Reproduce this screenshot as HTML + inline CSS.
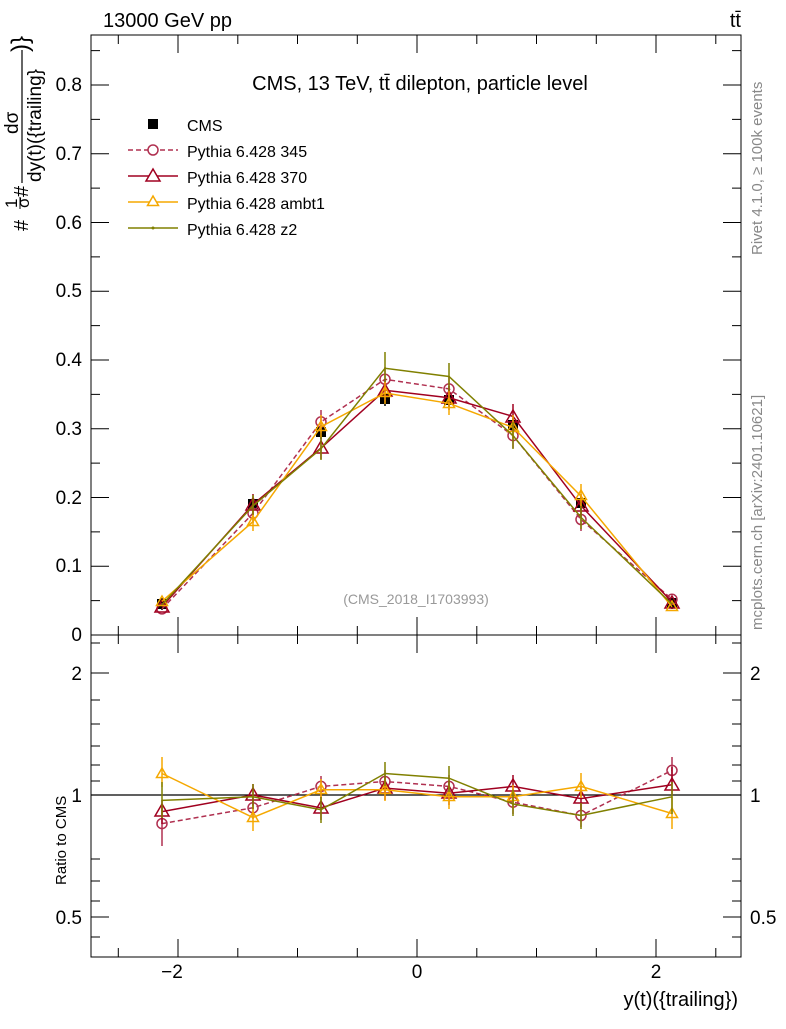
<!DOCTYPE html>
<html><head><meta charset="utf-8"><style>
body{margin:0;background:#fff;}
svg{font-family:"Liberation Sans",sans-serif;}
</style></head><body>
<svg width="786" height="1024" viewBox="0 0 786 1024" xmlns="http://www.w3.org/2000/svg">
<rect width="786" height="1024" fill="#fff"/>
<rect x="91" y="35" width="650" height="600" fill="none" stroke="#000" stroke-width="1"/>
<rect x="91" y="635" width="650" height="322" fill="none" stroke="#000" stroke-width="1"/>
<g stroke="#000" stroke-width="1">
<path d="M91 635h18M91 566.25h18M91 497.5h18M91 428.75h18M91 360h18M91 291.25h18M91 222.5h18M91 153.75h18M91 85h18"/>
<path d="M741 635h-18M741 566.25h-18M741 497.5h-18M741 428.75h-18M741 360h-18M741 291.25h-18M741 222.5h-18M741 153.75h-18M741 85h-18"/>
<path d="M91 600.6h9M91 531.9h9M91 463.1h9M91 394.4h9M91 325.6h9M91 256.9h9M91 188.1h9M91 119.4h9M91 50.6h9"/>
<path d="M741 600.6h-9M741 531.9h-9M741 463.1h-9M741 394.4h-9M741 325.6h-9M741 256.9h-9M741 188.1h-9M741 119.4h-9M741 50.6h-9"/>
<path d="M178 635v-18M417 635v-18M656 635v-18M178 35v18M417 35v18M656 35v18"/>
<path d="M118.3 635v-9M237.8 635v-9M297.5 635v-9M357.3 635v-9M476.8 635v-9M536.5 635v-9M596.3 635v-9M715.8 635v-9"/>
<path d="M118.3 35v9M237.8 35v9M297.5 35v9M357.3 35v9M476.8 35v9M536.5 35v9M596.3 35v9M715.8 35v9"/>
<path d="M178 957v-18M417 957v-18M656 957v-18M178 635v18M417 635v18M656 635v18"/>
<path d="M118.3 957v-9M237.8 957v-9M297.5 957v-9M357.3 957v-9M476.8 957v-9M536.5 957v-9M596.3 957v-9M715.8 957v-9"/>
<path d="M118.3 635v9M237.8 635v9M297.5 635v9M357.3 635v9M476.8 635v9M536.5 635v9M596.3 635v9M715.8 635v9"/>
<path d="M91 673h18M91 795h18M91 917h18M741 673h-18M741 795h-18M741 917h-18"/>
<path d="M91 643h9M91 700h9M91 724h9M91 746h9M91 765h9M91 781h9M91 859h9M91 881h9M91 901h9M91 937h9"/>
<path d="M741 643h-9M741 700h-9M741 724h-9M741 746h-9M741 765h-9M741 781h-9M741 859h-9M741 881h-9M741 901h-9M741 937h-9"/>
</g>
<g font-size="19" text-anchor="end" fill="#000">
<text x="82" y="641">0</text><text x="82" y="572">0.1</text><text x="82" y="504">0.2</text><text x="82" y="435">0.3</text><text x="82" y="366">0.4</text><text x="82" y="297">0.5</text><text x="82" y="229">0.6</text><text x="82" y="160">0.7</text><text x="82" y="91">0.8</text>
<text x="82" y="680">2</text><text x="82" y="802">1</text><text x="82" y="924">0.5</text>
</g>
<g font-size="19" fill="#000"><text x="750" y="680">2</text><text x="750" y="802">1</text><text x="750" y="924">0.5</text></g>
<g font-size="19" text-anchor="middle"><text x="172" y="978">−2</text><text x="417" y="978">0</text><text x="656" y="978">2</text></g>
<text x="738" y="1006" font-size="20" text-anchor="end">y(t)({trailing})</text>
<text x="103" y="27" font-size="20">13000 GeV pp</text>
<text x="741" y="27" font-size="20" text-anchor="end">tt̄</text>
<text x="420" y="90" font-size="20" text-anchor="middle">CMS, 13 TeV, tt̄ dilepton, particle level</text>
<text x="416" y="604" font-size="14" fill="#999" text-anchor="middle">(CMS_2018_I1703993)</text>
<text transform="translate(66,885) rotate(-90)" font-size="15">Ratio to CMS</text>
<g fill="#000">
<text transform="translate(28,231) rotate(-90)" font-size="20">#</text>
<text transform="translate(17,208) rotate(-90)" font-size="17">1</text>
<text transform="translate(29,208) rotate(-90)" font-size="17">σ</text>
<path d="M20 209V197" stroke="#000"/>
<text transform="translate(28,197) rotate(-90)" font-size="20">#</text>
<text transform="translate(18,134) rotate(-90)" font-size="19">dσ</text>
<path d="M22 183V50" stroke="#000" stroke-width="1.2"/>
<text transform="translate(41,182) rotate(-90)" font-size="19">dy(t)({trailing}</text>
<text transform="translate(28,52) rotate(-90)" font-size="24">)}</text>
</g>
<text transform="translate(762,255) rotate(-90)" font-size="15" fill="#888">Rivet 4.1.0, ≥ 100k events</text>
<text transform="translate(762,630) rotate(-90)" font-size="15" fill="#888">mcplots.cern.ch [arXiv:2401.10621]</text>
<rect x="148" y="119" width="10" height="10" fill="#000"/>
<text x="187" y="131" font-size="16">CMS</text>
<path d="M128 150h50" stroke="#b03050" stroke-width="1.5" stroke-dasharray="5,3"/><circle cx="153" cy="150" r="5" fill="#fff" stroke="#b03050" stroke-width="1.5"/>
<text x="187" y="157" font-size="16">Pythia 6.428 345</text>
<path d="M128 176h50" stroke="#a00020" stroke-width="1.5"/><path d="M153 169l7 12h-14z" fill="#fff" stroke="#a00020" stroke-width="1.5"/>
<text x="187" y="183" font-size="16">Pythia 6.428 370</text>
<path d="M128 202h50" stroke="#f5a800" stroke-width="1.5"/><path d="M153 196l5.5 9.5h-11z" fill="#fff" stroke="#f5a800" stroke-width="1.5"/>
<text x="187" y="209" font-size="16">Pythia 6.428 ambt1</text>
<path d="M128 228h50" stroke="#808000" stroke-width="1.5"/><circle cx="153" cy="228" r="1.5" fill="#808000"/>
<text x="187" y="235" font-size="16">Pythia 6.428 z2</text>
<path d="M91 795H741" stroke="#000" stroke-width="1.2"/>
<g fill="none" stroke-width="1.5">
<g stroke="#000"><path d="M162 598v12M253 498v13M321 425v14M385 393v13M449 393v14M513 418v14M581 496v14M672 598v11"/></g>
<g fill="#000"><rect x="157" y="599" width="10" height="10"/><rect x="248" y="499" width="10" height="10"/><rect x="316" y="427" width="10" height="10"/><rect x="380" y="394" width="10" height="10"/><rect x="444" y="395" width="10" height="10"/><rect x="508" y="420" width="10" height="10"/><rect x="576" y="498" width="10" height="10"/><rect x="667" y="598" width="10" height="10"/></g>
<g stroke="#b03050">
<path d="M162 608.9L253 513.3L321 421.9L385 379.3L449 388.9L513 435.6L581 519.5L672 599.3" stroke-dasharray="5,3"/>
<path d="M253 503v20M321 410v23M385 367v24M449 376v25M513 423v25M581 508v23"/>
<circle cx="162" cy="608.9" r="5"/><circle cx="253" cy="513.3" r="5"/><circle cx="321" cy="421.9" r="5"/><circle cx="385" cy="379.3" r="5"/><circle cx="449" cy="388.9" r="5"/><circle cx="513" cy="435.6" r="5"/><circle cx="581" cy="519.5" r="5"/><circle cx="672" cy="599.3" r="5"/>
</g>
<g stroke="#a00020">
<path d="M162 606.8L253 504.4L321 448L385 390.3L449 397.8L513 416.4L581 505.8L672 602"/>
<path d="M253 494v20M321 437v22M385 379v23M449 386v24M513 404v25M581 494v23"/>
<g><path d="M162 600l7 12h-14z"/><path d="M253 498l7 12h-14z"/><path d="M321 441l7 12h-14z"/><path d="M385 384l7 12h-14z"/><path d="M449 391l7 12h-14z"/><path d="M513 410l7 12h-14z"/><path d="M581 499l7 12h-14z"/><path d="M672 596l7 12h-14z"/></g>
</g>
<g stroke="#f5a800">
<path d="M162 601.3L253 521.6L321 426.7L385 393L449 403.3L513 427.4L581 496.1L672 606.8"/>
<path d="M253 511v20M321 415v23M385 382v22M449 391v24M513 415v24M581 484v24"/>
<g><path d="M162 596l5.5 9.5h-11z"/><path d="M253 516l5.5 9.5h-11z"/><path d="M321 421l5.5 9.5h-11z"/><path d="M385 387l5.5 9.5h-11z"/><path d="M449 398l5.5 9.5h-11z"/><path d="M513 422l5.5 9.5h-11z"/><path d="M581 490l5.5 9.5h-11z"/><path d="M672 601l5.5 9.5h-11z"/></g>
</g>
<g stroke="#808000">
<path d="M162 604.8L253 505.8L321 448.7L385 368.3L449 376.5L513 435.6L581 517.4L672 604.1"/>
<path d="M253 495v20M321 437v23M385 352v30M449 363v28M513 422v27M581 506v23"/>
</g>
</g>
<g fill="none" stroke-width="1.5">
<g stroke="#b03050">
<path d="M162 823.6L253 807.8L321 786.4L385 781.5L449 786.4L513 802.2L581 815.5L672 770.4" stroke-dasharray="5,3"/>
<path d="M162 806v40M253 797v22M321 776v22M385 770v24M449 775v24M513 789v25M581 803v24M672 757v27"/>
<circle cx="162" cy="823.6" r="5"/><circle cx="253" cy="807.8" r="5"/><circle cx="321" cy="786.4" r="5"/><circle cx="385" cy="781.5" r="5"/><circle cx="449" cy="786.4" r="5"/><circle cx="513" cy="802.2" r="5"/><circle cx="581" cy="815.5" r="5"/><circle cx="672" cy="770.4" r="5"/>
</g>
<g stroke="#a00020">
<path d="M162 811.6L253 795L321 807.8L385 788.1L449 793.2L513 786.4L581 798.6L672 784.7"/>
<path d="M162 800v24M253 784v22M321 797v23M385 776v24M449 781v24M513 775v23M581 786v25M672 767v27"/>
<g><path d="M162 804l7 12h-14z"/><path d="M253 788l7 12h-14z"/><path d="M321 801l7 12h-14z"/><path d="M385 781l7 12h-14z"/><path d="M449 786l7 12h-14z"/><path d="M513 779l7 12h-14z"/><path d="M581 791l7 12h-14z"/><path d="M672 778l7 12h-14z"/></g>
</g>
<g stroke="#f5a800">
<path d="M162 773.5L253 817.5L321 789.8L385 789.8L449 796.8L513 796.8L581 786.4L672 813.5"/>
<path d="M162 757v30M253 805v26M321 779v22M385 778v23M449 785v24M513 785v24M581 773v25M672 797v32"/>
<g><path d="M162 768l5.5 9.5h-11z"/><path d="M253 812l5.5 9.5h-11z"/><path d="M321 784l5.5 9.5h-11z"/><path d="M385 784l5.5 9.5h-11z"/><path d="M449 791l5.5 9.5h-11z"/><path d="M513 791l5.5 9.5h-11z"/><path d="M581 781l5.5 9.5h-11z"/><path d="M672 808l5.5 9.5h-11z"/></g>
</g>
<g stroke="#808000">
<path d="M162 800.4L253 796.8L321 809.7L385 773.5L449 778.2L513 804L581 815.5L672 796.8"/>
<path d="M162 782v36M253 784v25M321 797v26M385 762v24M449 766v26M513 790v26M581 803v26M672 782v32"/>
</g>
</g>
</svg>
</body></html>
